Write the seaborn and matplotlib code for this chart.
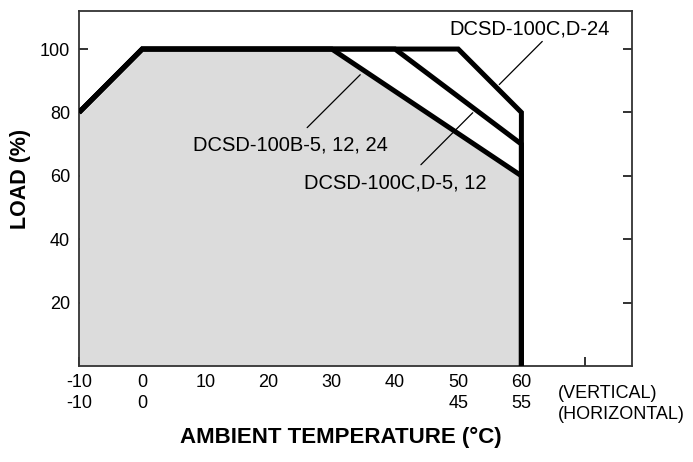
import matplotlib
matplotlib.use("Agg")
import matplotlib.pyplot as plt
import matplotlib.transforms as mtransforms
import seaborn as sns
import pandas as pd

# ---- data ----
temp_b = [-10, 0, 30, 60, 60]
load_b = [80, 100, 100, 60, 0]
temp_cd512 = [-10, 0, 40, 60, 60]
load_cd512 = [80, 100, 100, 70, 0]
temp_cd24 = [-10, 0, 50, 60, 60]
load_cd24 = [80, 100, 100, 80, 0]

x_ticks = [-10, 0, 10, 20, 30, 40, 50, 60, 70]
x_labels_vertical = ["-10", "0", "10", "20", "30", "40", "50", "60", ""]
x_labels_horizontal = ["-10", "0", "", "", "", "", "45", "55", ""]
y_ticks = [20, 40, 60, 80, 100]

label_b = "DCSD-100B-5, 12, 24"
label_cd512 = "DCSD-100C,D-5, 12"
label_cd24 = "DCSD-100C,D-24"

sns.set_theme(style="white")
plt.rcParams["font.family"] = ["Liberation Sans", "DejaVu Sans"]
plt.rcParams["text.color"] = "black"

fig = plt.figure(figsize=(6.93, 4.62), dpi=100)
ax = fig.add_axes([79/693, 1-366/462, (632-79)/693, (366-11)/462])

ax.fill_between(temp_b, load_b, 0, color="#dcdcdc", linewidth=0, zorder=1)

frames = [
    pd.DataFrame({"temp": temp_cd24, "load": load_cd24, "curve": label_cd24}),
    pd.DataFrame({"temp": temp_cd512, "load": load_cd512, "curve": label_cd512}),
    pd.DataFrame({"temp": temp_b, "load": load_b, "curve": label_b}),
]
for df in frames:
    sns.lineplot(data=df, x="temp", y="load", sort=False, estimator=None,
                 color="black", linewidth=3.6, ax=ax, zorder=3,
                 solid_joinstyle="miter", solid_capstyle="butt")

ax.set_xlim(-10, 77.5)
ax.set_ylim(0, 112)
ax.set_xlabel("")
ax.set_ylabel("")

ax.set_xticks(x_ticks)
ax.set_xticklabels([f"{a}\n{b}" if b else a for a, b in zip(x_labels_vertical, x_labels_horizontal)])
for lbl in ax.get_xticklabels():
    lbl.set_linespacing(1.3)
    lbl.set_verticalalignment("top")
ax.set_yticks(y_ticks)
ax.tick_params(axis="both", which="both", direction="in", length=6.5, width=1.3,
               color="#222222", labelsize=13, labelcolor="black")
ax.tick_params(axis="x", pad=6, bottom=True, top=False)
ax.tick_params(axis="y", pad=6.5, left=True, right=True, labelright=False)

for s in ax.spines.values():
    s.set_color("#333333")
    s.set_linewidth(1.3)
    s.set_visible(True)

# right-hand column labels
trans = mtransforms.blended_transform_factory(ax.transData, ax.transAxes)
ax.text(65.8, -0.053, "(VERTICAL)\n(HORIZONTAL)", transform=trans, ha="left",
        va="top", fontsize=13, linespacing=1.3, color="black")

# annotations
lw_leader = 0.9
ax.annotate("", xy=(56.5, 88.8), xytext=(63.3, 102.4),
            arrowprops=dict(arrowstyle="-", color="black", lw=lw_leader, shrinkA=0, shrinkB=0))
ax.text(61.3, 106.2, label_cd24, ha="center", va="center", fontsize=14.5, zorder=5)

ax.annotate("", xy=(34.5, 91.9), xytext=(26.1, 75.2),
            arrowprops=dict(arrowstyle="-", color="black", lw=lw_leader, shrinkA=0, shrinkB=0))
ax.text(23.4, 69.8, label_b, ha="center", va="center", fontsize=14.5, zorder=5)

ax.annotate("", xy=(52.3, 79.9), xytext=(44.1, 63.5),
            arrowprops=dict(arrowstyle="-", color="black", lw=lw_leader, shrinkA=0, shrinkB=0))
ax.text(40.0, 57.8, label_cd512, ha="center", va="center", fontsize=14.5, zorder=5)

fig.text(21/693, 1-179/462, "LOAD (%)", rotation=90, ha="center", va="center",
         fontsize=15.5, fontweight="bold", color="black")
fig.text(341/693, 1-437/462, "AMBIENT TEMPERATURE (°C)", ha="center", va="center",
         fontsize=16, fontweight="bold", color="black")

fig.savefig("out.png", dpi=100)
